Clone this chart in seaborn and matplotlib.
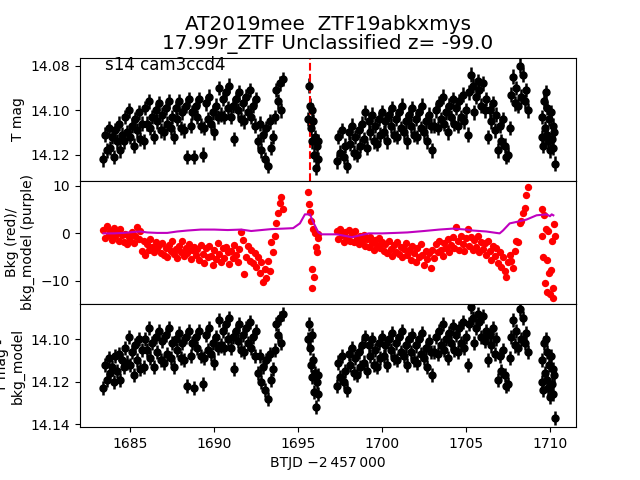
import matplotlib
matplotlib.use("Agg")
import matplotlib.pyplot as plt
import seaborn as sns
import pandas as pd

# BTJD - 2457000 (segments separated by data gaps)
time = [
    # segment 1
    1683.4, 1683.5, 1683.6, 1683.7, 1683.8, 1683.9, 1684.0, 1684.1, 1684.2, 1684.3,
    1684.4, 1684.5, 1684.6, 1684.7, 1684.8, 1684.9, 1685.0, 1685.1, 1685.2, 1685.3,
    1685.4, 1685.5, 1685.6, 1685.7, 1685.8, 1685.9, 1686.0, 1686.1, 1686.2, 1686.3,
    1686.4, 1686.5, 1686.6, 1686.7, 1686.8, 1686.9, 1687.0, 1687.1, 1687.2, 1687.3,
    1687.4, 1687.5, 1687.6, 1687.7, 1687.8, 1687.9, 1688.0, 1688.1, 1688.2, 1688.3,
    1688.4, 1688.5, 1688.6, 1688.7, 1688.8, 1688.9, 1689.0, 1689.1, 1689.2, 1689.3,
    1689.4, 1689.5, 1689.6, 1689.7, 1689.8, 1689.9, 1690.0, 1690.1, 1690.2, 1690.3,
    1690.4, 1690.5, 1690.6, 1690.7, 1690.8, 1690.9, 1691.0, 1691.1, 1691.2, 1691.3,
    1691.4, 1691.5, 1691.6, 1691.7, 1691.8, 1691.9, 1692.0, 1692.1, 1692.2, 1692.3,
    1692.4, 1692.5, 1692.6, 1692.7, 1692.8, 1692.9, 1693.0, 1693.1, 1693.2, 1693.3,
    1693.4, 1693.5, 1693.6, 1693.7, 1693.8, 1693.9, 1694.0, 1694.1,
    # segment 2
    1695.60, 1695.65, 1695.70, 1695.75, 1695.80, 1695.85, 1695.90, 1695.95, 1696.00,
    1696.05, 1696.10, 1696.15, 1696.20,
    # segment 3
    1697.3, 1697.4, 1697.5, 1697.6, 1697.7, 1697.8, 1697.9, 1698.0, 1698.1, 1698.2,
    1698.3, 1698.4, 1698.5, 1698.6, 1698.7, 1698.8, 1698.9, 1699.0, 1699.1, 1699.2,
    1699.3, 1699.4, 1699.5, 1699.6, 1699.7, 1699.8, 1699.9, 1700.0, 1700.1, 1700.2,
    1700.3, 1700.4, 1700.5, 1700.6, 1700.7, 1700.8, 1700.9, 1701.0, 1701.1, 1701.2,
    1701.3, 1701.4, 1701.5, 1701.6, 1701.7, 1701.8, 1701.9, 1702.0, 1702.1, 1702.2,
    1702.3, 1702.4, 1702.5, 1702.6, 1702.7, 1702.8, 1702.9, 1703.0, 1703.1, 1703.2,
    1703.3, 1703.4, 1703.5, 1703.6, 1703.7, 1703.8, 1703.9, 1704.0, 1704.1, 1704.2,
    1704.3, 1704.4, 1704.5, 1704.6, 1704.7, 1704.8, 1704.9, 1705.0, 1705.1, 1705.2,
    1705.3, 1705.4, 1705.5, 1705.6, 1705.7, 1705.8, 1705.9, 1706.0, 1706.1, 1706.2,
    1706.3, 1706.4, 1706.5, 1706.6, 1706.7, 1706.8, 1706.9, 1707.0, 1707.1, 1707.2,
    1707.3, 1707.4, 1707.5, 1707.6, 1707.7, 1707.8, 1707.9, 1708.0, 1708.1, 1708.2,
    1708.3, 1708.4, 1708.5, 1708.6, 1708.7,
    # segment 4
    1709.50, 1709.55, 1709.60, 1709.65, 1709.70, 1709.75, 1709.80, 1709.85, 1709.90,
    1709.95, 1710.00, 1710.05, 1710.10, 1710.15, 1710.20, 1710.25, 1710.30,
]

# T mag
tmag = [
    14.122, 14.111, 14.118, 14.108,
    14.117, 14.112, 14.121, 14.109, 14.114, 14.106, 14.118, 14.111,
    14.114, 14.103, 14.110, 14.100, 14.112, 14.107, 14.116, 14.104, 14.109, 14.101, 14.113, 14.106, 14.114,
    14.099, 14.106, 14.096, 14.108, 14.103, 14.112, 14.100, 14.105, 14.097, 14.109, 14.102, 14.110, 14.099,
    14.106, 14.096, 14.108, 14.103, 14.112,
    14.099, 14.104, 14.096, 14.108, 14.101, 14.109, 14.098, 14.121, 14.095, 14.107,
    14.101, 14.121, 14.098, 14.103, 14.095, 14.107, 14.120, 14.108, 14.097, 14.104, 14.094, 14.106, 14.101,
    14.110, 14.098, 14.103,
    14.090, 14.102, 14.095, 14.103, 14.092, 14.099, 14.089,
    14.103, 14.098, 14.113, 14.095, 14.100, 14.092, 14.104, 14.097, 14.105, 14.094, 14.101, 14.091, 14.103,
    14.098, 14.107, 14.095,
    14.114, 14.106, 14.118, 14.111, 14.122, 14.108, 14.125, 14.105, 14.117, 14.112,
    14.103, 14.091, 14.096, 14.088, 14.100, 14.086,
    # segment 2
    14.104, 14.089, 14.098, 14.108, 14.100, 14.114, 14.105, 14.120, 14.112, 14.126, 14.116, 14.122, 14.114,
    # segment 3
    14.123, 14.112, 14.119, 14.109, 14.121, 14.116, 14.125,
    14.110, 14.115, 14.107, 14.119, 14.112, 14.120, 14.109, 14.116, 14.106,
    14.113, 14.101, 14.117, 14.105, 14.110, 14.102, 14.114, 14.107, 14.115, 14.104, 14.111, 14.101,
    14.110, 14.105, 14.114, 14.102, 14.107, 14.099, 14.111, 14.104, 14.112, 14.101, 14.108, 14.098,
    14.110, 14.105, 14.114, 14.102,
    14.107, 14.099, 14.111, 14.104, 14.112, 14.101, 14.108, 14.098, 14.110, 14.105, 14.114, 14.102,
    14.107, 14.118,
    14.107, 14.100, 14.108, 14.097, 14.104, 14.094, 14.106, 14.101, 14.110, 14.098, 14.103, 14.095,
    14.106, 14.099, 14.107, 14.096, 14.103, 14.093, 14.105, 14.100,
    14.111, 14.092, 14.084, 14.089, 14.101, 14.094, 14.087, 14.091, 14.098, 14.088, 14.100, 14.095,
    14.112, 14.100, 14.105, 14.097, 14.109, 14.102,
    14.118, 14.107, 14.114, 14.104, 14.116, 14.121, 14.120, 14.108,
    14.093, 14.085, 14.097, 14.090, 14.098, 14.080, 14.094, 14.084, 14.096, 14.091, 14.100,
    # segment 4
    14.112, 14.103, 14.116, 14.096, 14.108, 14.092, 14.111, 14.099, 14.114, 14.104, 14.118, 14.101,
    14.113, 14.107, 14.117, 14.110, 14.124,
]

# background flux
bkg = [
    0.8, -0.9, 1.5, -0.3, 0.4, -1.4, 1.2, -0.6, 0.2, -1.6, 0.9, -0.4,
    -1.8, -0.2, -2.3, -0.8, -1.5, 0.3, -2.0, -0.5, 1.4, -1.2, 0.6,
    -3.8, -1.6, -4.6, -2.2, -3.4, -1.1, -2.9, -4.0, -1.8, -3.1, -2.4, -4.2,
    -2.0, -4.6, -3.0, -5.0, -2.5, -3.8, -1.7, -4.4, -3.2, -5.2,
    -2.6, -3.9, -1.5, -4.8, -3.0, -4.1, -2.2, -5.3, -3.5, -2.8,
    -4.6, -3.3, -5.6, -2.4, -4.4, -6.2, -3.1, -5.0, -2.6, -4.7,
    -6.6, -3.5, -5.4, -2.1, -4.3, -6.0, -3.0, -5.1, -2.8, -4.0,
    -6.4, -3.6, -5.2, -2.5, -4.5, -6.1, -3.3, 0.2, -1.4, -8.6,
    -4.9, -2.7, -5.8, -3.4, -6.3, -4.2, -7.1, -5.0, -8.4, -6.0,
    -10.2, -7.5, -9.4, -5.8, -8.0, -1.9, -4.0, -0.5, 2.1, 4.2,
    6.3, 7.6, 5.2,
    # segment 2
    8.8, 6.1, 4.4, 2.7, -11.4, -7.4, 1.0, -9.2, 0.0, -2.9, -4.0, -1.0, -0.2,
    # segment 3
    0.6, -1.2, 0.9, -0.4, -1.8, 0.2, -0.9, 0.8, -1.5, -0.2,
    -1.9, 0.4, -1.0, -2.2, -0.6, -1.7, -0.3, -2.6, -1.1, -2.9,
    -0.7, -2.0, -3.4, -1.3, -2.5, -0.9, -3.1, -1.8, -3.6, -2.2,
    -4.2, -1.6, -3.3, -4.8, -2.4, -3.9, -1.9, -4.4, -2.8, -5.0,
    -3.2, -2.1, -4.6, -3.5, -5.6, -2.6, -4.1, -6.1, -3.0, -5.0,
    -2.3, -4.5, -6.6, -3.8, -5.4, -4.2, -7.2, -3.4, -5.2, -2.2,
    -4.0, -1.5, -3.5, -4.8, -2.0, -3.1, -1.2, -3.9, -2.4, -0.8,
    -3.0, 1.3, -1.6, -3.4, -0.5, -2.2, -3.8, -1.0, 1.0, -2.6,
    -0.8, -3.5, -1.4, -2.9, -0.6, -4.0, -1.8, -3.2, -2.0, -4.6,
    -1.5, -3.7, -5.5, -2.6, -4.8, -3.0, -6.2, -4.0, -7.0, -5.0,
    -8.0, -9.2, -6.0, -4.5, -5.7, -7.2, -3.6, -1.5, -1.9, 2.1,
    2.7, 4.2, 5.3, 8.0, 9.7,
    # segment 4
    -0.6, 5.1, -5.0, 3.8, -10.5, 1.0, -5.5, -12.4, 0.6, -8.4, -12.8, -7.6, -1.5,
    -11.4, -13.5, 2.0, -0.5,
]

# T mag - bkg_model
tmag_sub = [
    14.123, 14.112, 14.119, 14.109,
    14.116, 14.113, 14.120, 14.108, 14.115, 14.107, 14.119, 14.110,
    14.113, 14.104, 14.111, 14.099, 14.112, 14.106, 14.117, 14.103, 14.110, 14.100, 14.114, 14.105, 14.113,
    14.100, 14.105, 14.095, 14.109, 14.102, 14.113, 14.099, 14.106, 14.096, 14.110, 14.101, 14.111, 14.098,
    14.107, 14.095, 14.109, 14.102, 14.113,
    14.100, 14.105, 14.097, 14.109, 14.102, 14.110, 14.099, 14.122, 14.096, 14.108,
    14.102, 14.123, 14.099, 14.104, 14.096, 14.108, 14.121, 14.109, 14.098, 14.105, 14.095, 14.107, 14.102,
    14.111, 14.099, 14.104,
    14.091, 14.103, 14.096, 14.104, 14.093, 14.100, 14.090,
    14.104, 14.099, 14.114, 14.096, 14.101, 14.093, 14.105, 14.098, 14.106, 14.095, 14.102, 14.092, 14.104,
    14.099, 14.108, 14.096,
    14.116, 14.108, 14.120, 14.113, 14.124, 14.110, 14.128, 14.107, 14.119, 14.114,
    14.105, 14.093, 14.098, 14.090, 14.102, 14.088,
    # segment 2
    14.100, 14.093, 14.104, 14.112, 14.098, 14.118, 14.110, 14.125, 14.116, 14.132, 14.120, 14.126, 14.117,
    # segment 3
    14.122, 14.111, 14.118, 14.108, 14.120, 14.115, 14.124,
    14.107, 14.112, 14.104, 14.116, 14.109, 14.117, 14.106, 14.113, 14.103,
    14.111, 14.099, 14.115, 14.103, 14.108, 14.100, 14.112, 14.105, 14.113, 14.102, 14.109, 14.099,
    14.108, 14.103, 14.112, 14.100, 14.105, 14.097, 14.109, 14.102, 14.110, 14.099, 14.106, 14.096,
    14.108, 14.103, 14.112, 14.100,
    14.106, 14.098, 14.110, 14.103, 14.111, 14.100, 14.107, 14.097, 14.109, 14.104, 14.113, 14.101,
    14.106, 14.117,
    14.106, 14.099, 14.107, 14.096, 14.103, 14.093, 14.105, 14.100, 14.109, 14.097, 14.102, 14.094,
    14.105, 14.098, 14.106, 14.095, 14.102, 14.092, 14.104, 14.099,
    14.112, 14.093, 14.085, 14.090, 14.102, 14.095, 14.088, 14.092, 14.099, 14.089, 14.101, 14.096,
    14.110, 14.098, 14.103, 14.095, 14.107, 14.100,
    14.119, 14.108, 14.115, 14.105, 14.117, 14.122, 14.121, 14.109,
    14.099, 14.091, 14.103, 14.096, 14.104, 14.086, 14.100, 14.090, 14.102, 14.097, 14.106,
    # segment 4
    14.120, 14.110, 14.124, 14.102, 14.116, 14.100, 14.119, 14.106, 14.123, 14.112, 14.127, 14.108,
    14.121, 14.114, 14.126, 14.117, 14.137,
]

mag_err = 0.0033

# smoothed background model
model_time = [
    1683.4, 1684.0, 1684.6, 1685.2, 1685.6, 1686.0, 1686.6, 1687.2, 1687.8, 1688.4,
    1689.2, 1690.0, 1690.8, 1691.6, 1692.2, 1692.8, 1693.4, 1694.1, 1694.7, 1695.1,
    1695.4, 1695.7, 1695.9, 1696.2, 1696.4, 1697.3, 1698.2, 1699.2, 1700.0, 1700.8,
    1701.5, 1702.5, 1703.4, 1704.2, 1705.0, 1705.4, 1706.2, 1707.0, 1707.2, 1707.6,
    1708.0, 1708.6, 1709.2, 1709.8, 1710.0, 1710.1, 1710.2,
]
model_bkg = [
    0.0, 0.0, 0.1, 0.3, 0.4, 0.2, 0.1, 0.1, 0.4, 0.6,
    0.8, 0.8, 0.7, 0.8, 0.5, 0.7, 0.9, 1.0, 1.1, 2.1,
    4.0, 4.0, 2.3, 0.2, -0.2, -0.2, -0.8, 0.0, 0.0, 0.1,
    0.2, 0.5, 0.8, 1.0, 0.8, 0.6, 0.4, 0.0, 0.6, 2.1,
    2.4, 2.9, 3.8, 4.0, 3.6, 4.0, 3.8,
]

df = pd.DataFrame({"time": time, "tmag": tmag, "bkg": bkg, "tmag_sub": tmag_sub})
model = pd.DataFrame({"time": model_time, "bkg_model": model_bkg})

fig, axes = plt.subplots(3, 1, sharex=True, figsize=(6.4, 4.8), dpi=100)
fig.subplots_adjust(hspace=0)
ax1, ax2, ax3 = axes

ax1.errorbar(df["time"], df["tmag"], yerr=mag_err, fmt="o", color="k",
             ms=5, elinewidth=1.8, capsize=0)
ax1.axvline(1695.7, color="r", ls="--", lw=1.5)
ax1.set_ylim(14.1317, 14.0764)
ax1.set_yticks([14.08, 14.10, 14.12])
ax1.set_ylabel("T mag")
ax1.text(0.05, 0.90, "s14 cam3ccd4", transform=ax1.transAxes, fontsize=12)
ax1.set_title("AT2019mee  ZTF19abkxmys\n17.99r_ZTF Unclassified z= -99.0",
              fontsize=14.4, linespacing=1.05)

sns.scatterplot(data=df, x="time", y="bkg", color="r", s=28, linewidth=0, ax=ax2)
sns.lineplot(data=model, x="time", y="bkg_model", color="m", lw=1.5,
             estimator=None, sort=False, ax=ax2)
ax2.set_ylim(-14.84, 11.05)
ax2.set_yticks([-10, 0, 10])
ax2.set_ylabel("Bkg (red)/\nbkg_model (purple)")

ax3.errorbar(df["time"], df["tmag_sub"], yerr=mag_err, fmt="o", color="k",
             ms=5, elinewidth=1.8, capsize=0)
ax3.set_ylim(14.1414, 14.0835)
ax3.set_yticks([14.10, 14.12, 14.14])
ax3.set_ylabel("T mag -\nbkg_model")

ax3.set_xlim(1682.0, 1711.55)
ax3.set_xticks([1685, 1690, 1695, 1700, 1705, 1710])
ax3.set_xlabel("BTJD \u22122\u2009457\u2009000")

fig.savefig("out.png", dpi=100)
